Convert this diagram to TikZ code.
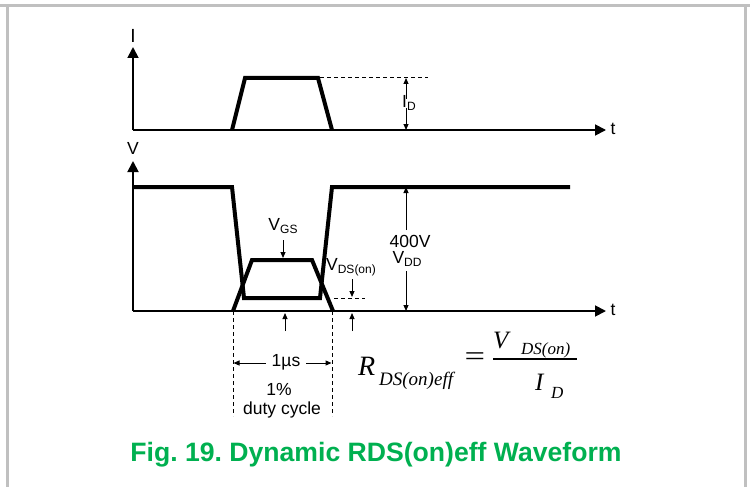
\documentclass[tikz,border=0pt]{standalone}
\usepackage{fontspec}
\setmainfont{Liberation Sans}
\newfontfamily\tmsfont{Liberation Serif}
\usetikzlibrary{arrows.meta}
\definecolor{capgreen}{RGB}{0,176,80}
\definecolor{framegray}{RGB}{192,192,192}
\frenchspacing
\begin{document}
\begin{tikzpicture}[x=1pt,y=-1pt,
  axis/.style={line width=1.8pt,-{Triangle[length=11pt,width=11pt]}},
  wave/.style={line width=4pt,line join=miter,line cap=butt},
  dimarr/.style={line width=1pt,-{Triangle[length=6pt,width=5pt]}},
  dashln/.style={line width=1pt,dash pattern=on 4pt off 3pt},
  lbl/.style={inner sep=0pt,font=\fontsize{17.5}{17.5}\selectfont},
  frm/.style={draw=framegray,line width=3pt},
  fml/.style={anchor=base west,inner sep=0pt}
]
\useasboundingbox (0,0) rectangle (750,487);
\fill[white] (0,0) rectangle (750,487);
% frame
\draw[frm] (0,6) -- (750,6);
\draw[frm] (7,6) -- (7,487);
\draw[frm] (745,6) -- (745,487);

% ---------- top graph (current) ----------
\coordinate (o1) at (133,130);
\coordinate (yi) at (133,47);
\coordinate (xi) at (606,130);
\draw[axis] (o1) -- (yi);
\draw[axis] (o1) -- (xi);
\node[lbl,font=\fontsize{19}{19}\selectfont] (Ilab) at (133,36) {I};
\node[lbl] (t1) at (613,129) {t};
\draw[wave] (232,130) -- (245,78) -- (318,78) -- (332,130);
\coordinate (idtop) at (406,78);
\coordinate (idbot) at (406,130);
\draw[dashln] (320,78) -- (428,78);
\node[lbl] (idlab) at (409,103) {I\raisebox{-0.25ex}{\fontsize{12}{12}\selectfont D}};
\draw[dimarr] ([yshift=-3pt]idlab.north -| idtop) -- (idtop);
\draw[dimarr] ([yshift=2pt]idlab.south -| idbot) -- (idbot);

% ---------- bottom graph (voltage) ----------
\coordinate (o2) at (133,311);
\coordinate (yv) at (133,161);
\coordinate (xv) at (606,311);
\draw[axis] (o2) -- (yv);
\draw[axis] (o2) -- (xv);
\node[lbl] (Vlab) at (133,148) {V};
\node[lbl] (t2) at (613,310) {t};
% VDS waveform
\draw[wave] (133,187) -- (232,187) -- (244,298) -- (320,298) -- (332,187) -- (570,187);
% VGS waveform
\draw[wave] (233,311) -- (252,260) -- (312,260) -- (333,311);

% VGS label
\node[lbl] (vgs) at (283,226) {V\raisebox{-0.3ex}{\fontsize{12}{12}\selectfont GS}};
\coordinate (vgstip) at (283,258);
\draw[dimarr] (vgs.south |- 0,240) -- (vgstip);
% VDS(on) label
\node[lbl] (vdson) at (351,267) {V\raisebox{-0.3ex}{\fontsize{12}{12}\selectfont DS(on)}};
\coordinate (vdstip) at (352,297);
\draw[dimarr] (352,279) -- (vdstip);
\draw[dashln] (334,298) -- (365,298);

% 400V / VDD
\node[lbl] (v400) at (410,241) {400V};
\node[lbl] (vdd) at (407,259) {V\raisebox{-0.3ex}{\fontsize{12}{12}\selectfont DD}};
\coordinate (vddtop) at (406,187);
\coordinate (vddbot) at (406,311);
\draw[dimarr] (406,230) -- (vddtop);
\draw[dimarr] (406,271) -- (vddbot);

% up arrows below baseline
\coordinate (ua1) at (285,313);
\coordinate (ua2) at (352,313);
\draw[dimarr] (285,331) -- (ua1);
\draw[dimarr] (352,331) -- (ua2);

% duty cycle markers
\coordinate (dl0) at (233,311);
\coordinate (dr0) at (332,311);
\draw[dashln] (dl0) -- (233,416);
\draw[dashln] (dr0) -- (332,416);
\node[lbl] (us) at (286,362) {1µs};
\coordinate (dl) at (233.5,363);
\coordinate (dr) at (331.5,363);
\draw[dimarr,shorten <=6pt] (us.west |- dl) -- (dl);
\draw[dimarr,shorten <=6pt] (us.east |- dr) -- (dr);
\node[lbl] (pct) at (279,389) {1\%};
\node[lbl] (duty) at (282,410) {duty cycle};

% formula
\node[fml,font=\tmsfont\itshape\fontsize{28}{28}\selectfont] (R) at (358,375) {R};
\node[fml,font=\tmsfont\itshape\fontsize{19}{19}\selectfont] (Rsub) at (379,385) {DS(on)eff};
\node[inner sep=0pt,font=\tmsfont\fontsize{28}{28}\selectfont] (eq) at (475,359) {\scalebox{1.3}[1]{=}};
\coordinate (barl) at (493,359);
\coordinate (barr) at (577,359);
\draw[line width=1.4pt] (barl) -- (barr);
\node[fml,font=\tmsfont\itshape\fontsize{25}{25}\selectfont] (Vn) at (493,348) {V};
\node[fml,font=\tmsfont\itshape\fontsize{17}{17}\selectfont] (Vnsub) at (521,354) {DS(on)};
\node[fml,font=\tmsfont\itshape\fontsize{25}{25}\selectfont] (Id) at (535,390) {I};
\node[fml,font=\tmsfont\itshape\fontsize{17}{17}\selectfont] (Idsub) at (551,398) {D};

% caption
\node[font=\bfseries\fontsize{26.6}{26.6}\selectfont,text=capgreen,inner sep=0pt] (cap) at (376,455) {Fig. 19. Dynamic RDS(on)eff Waveform};
\end{tikzpicture}
\end{document}
